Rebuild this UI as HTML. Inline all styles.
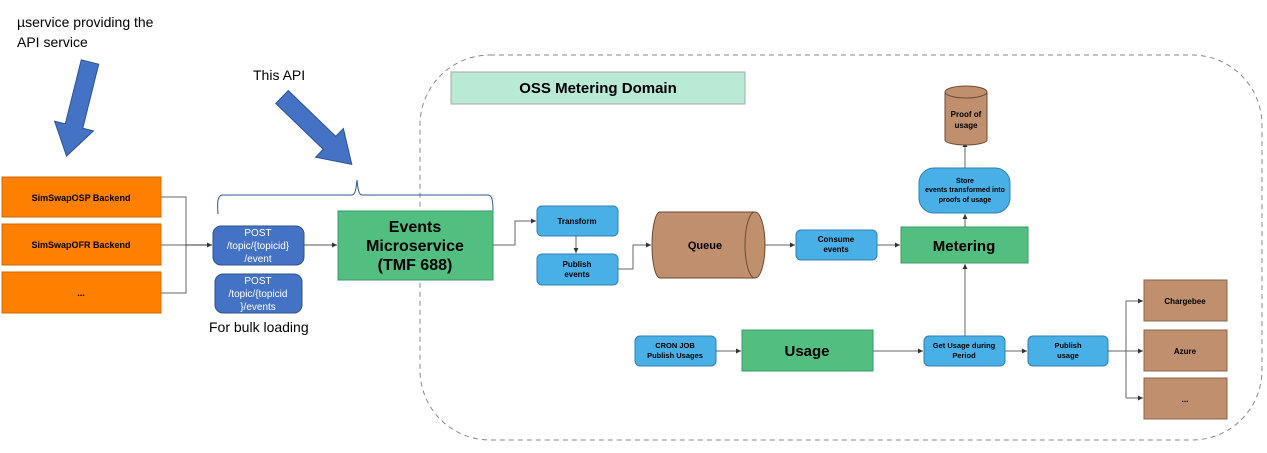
<!DOCTYPE html>
<html><head><meta charset="utf-8"><style>
html,body{margin:0;padding:0;background:#fff;}
svg{display:block;font-family:"Liberation Sans",Arial,sans-serif;}
.b{font-weight:bold;}
</style></head><body>
<svg width="1267" height="453" viewBox="0 0 1267 453" xmlns="http://www.w3.org/2000/svg">
<defs>
<marker id="a" markerWidth="6" markerHeight="6" refX="5" refY="3" orient="auto" markerUnits="userSpaceOnUse"><path d="M0,0.5 L5,3 L0,5.5 z" fill="#333"/></marker>
</defs>
<rect x="420" y="55" width="842" height="385" rx="70" fill="none" stroke="#888" stroke-dasharray="5,4"/>
<text x="17" y="27" font-family="Liberation Sans" font-size="14">µservice providing the</text>
<text x="17" y="47" font-size="14">API service</text>
<text x="253" y="80" font-size="14">This API</text>
<g transform="translate(90,62) rotate(104)"><polygon points="0,-9 66,-9 66,-20 97,0 66,20 66,9 0,9" fill="#4472C4" stroke="#2F528F"/></g>
<g transform="translate(282,97) rotate(44)"><polygon points="0,-9 66,-9 66,-20 97,0 66,20 66,9 0,9" fill="#4472C4" stroke="#2F528F"/></g>
<rect x="2" y="177" width="159" height="40" fill="#FF7F00" stroke="#d06800"/>
<rect x="2" y="224" width="159" height="41" fill="#FF7F00" stroke="#d06800"/>
<rect x="2" y="272" width="159" height="41" fill="#FF7F00" stroke="#d06800"/>
<text x="81" y="201" font-size="9" class="b" text-anchor="middle">SimSwapOSP Backend</text>
<text x="81" y="248" font-size="9" class="b" text-anchor="middle">SimSwapOFR Backend</text>
<text x="81" y="296" font-size="9" class="b" text-anchor="middle">...</text>
<path d="M161,197 H186 V293 H161 M161,245 H212" fill="none" stroke="#666" stroke-width="1"/>
<path d="M186,245 H212" stroke="#333" marker-end="url(#a)"/>
<path d="M218,214 C217,200 218,196 222,195 H352 C355,195 356,190 357,180 C358,190 359,195 362,195 H488 C492,195 493,200 493,212" fill="none" stroke="#2F5597"/>
<rect x="213" y="226" width="91" height="39" rx="8" fill="#4472C4" stroke="#2F528F"/>
<text fill="#fff" font-size="10" text-anchor="middle"><tspan x="258" y="236">POST</tspan><tspan x="258" y="249">/topic/{topicid}</tspan><tspan x="258" y="262">/event</tspan></text>
<rect x="215" y="274" width="87" height="39" rx="8" fill="#4472C4" stroke="#2F528F"/>
<text fill="#fff" font-size="10" text-anchor="middle"><tspan x="258" y="284">POST</tspan><tspan x="258" y="297">/topic/{topicid</tspan><tspan x="258" y="310">}/events</tspan></text>
<text x="209" y="332" font-size="14">For bulk loading</text>
<path d="M304,245 H337" stroke="#555" marker-end="url(#a)"/>
<rect x="338" y="211" width="155" height="69" fill="#52BE80" stroke="#3a9a66"/>
<text font-size="16" class="b" text-anchor="middle"><tspan x="415" y="232">Events</tspan><tspan x="415" y="251">Microservice</tspan><tspan x="415" y="270">(TMF 688)</tspan></text>
<rect x="451" y="72" width="294" height="32" fill="#B8EAD6" stroke="#aaa"/>
<text x="598" y="93" font-size="15" class="b" text-anchor="middle">OSS Metering Domain</text>
<path d="M493,245 H515 V221 H536" fill="none" stroke="#666" marker-end="url(#a)"/>
<rect x="537" y="206" width="81" height="30" rx="5" fill="#48B0E6" stroke="#2f7fb0"/>
<text x="577" y="224" font-size="8" class="b" text-anchor="middle">Transform</text>
<path d="M576,236 V253" stroke="#666" marker-end="url(#a)"/>
<rect x="537" y="254" width="81" height="31" rx="5" fill="#48B0E6" stroke="#2f7fb0"/>
<text font-size="8" class="b" text-anchor="middle"><tspan x="577" y="267">Publish</tspan><tspan x="577" y="277">events</tspan></text>
<path d="M618,269 H633 V245 H651" fill="none" stroke="#666" marker-end="url(#a)"/>
<path d="M660,212 H755 V278 H660 A8,33 0 0 1 660,212 z" fill="#C0906E" stroke="#6d4a33"/>
<ellipse cx="755" cy="245" rx="10" ry="33" fill="#C0906E" stroke="#6d4a33"/>
<text x="705" y="249" font-size="11" class="b" text-anchor="middle">Queue</text>
<path d="M765,245 H795" stroke="#666" marker-end="url(#a)"/>
<rect x="796" y="230" width="81" height="30" rx="5" fill="#48B0E6" stroke="#2f7fb0"/>
<text font-size="8" class="b" text-anchor="middle"><tspan x="836" y="242">Consume</tspan><tspan x="836" y="252">events</tspan></text>
<path d="M877,245 H900" stroke="#666" marker-end="url(#a)"/>
<rect x="901" y="227" width="127" height="36" fill="#52BE80" stroke="#3a9a66"/>
<text x="964" y="251" font-size="15" class="b" text-anchor="middle">Metering</text>
<path d="M965,227 V214" stroke="#666" marker-end="url(#a)"/>
<rect x="919" y="168" width="91" height="45" rx="15" fill="#48B0E6" stroke="#2f7fb0"/>
<text font-size="7" class="b" text-anchor="middle"><tspan x="965" y="183">Store</tspan><tspan x="965" y="192">events transformed into</tspan><tspan x="965" y="202">proofs of usage</tspan></text>
<path d="M965,168 V142" stroke="#666" marker-end="url(#a)"/>
<path d="M945,92 V140 A21,5 0 0 0 987,140 V92" fill="#C0906E" stroke="#6d4a33"/>
<ellipse cx="966" cy="92" rx="21" ry="6" fill="#C0906E" stroke="#6d4a33"/>
<text font-size="8" class="b" text-anchor="middle"><tspan x="966" y="117">Proof of</tspan><tspan x="966" y="128">usage</tspan></text>
<rect x="635" y="336" width="81" height="30" rx="5" fill="#48B0E6" stroke="#2f7fb0"/>
<text font-size="7.5" class="b" text-anchor="middle"><tspan x="675" y="348">CRON JOB</tspan><tspan x="675" y="358">Publish Usages</tspan></text>
<path d="M716,351 H741" stroke="#666" marker-end="url(#a)"/>
<rect x="742" y="330" width="131" height="41" fill="#52BE80" stroke="#3a9a66"/>
<text x="807" y="356" font-size="15" class="b" text-anchor="middle">Usage</text>
<path d="M873,351 H923" stroke="#666" marker-end="url(#a)"/>
<rect x="924" y="336" width="81" height="30" rx="5" fill="#48B0E6" stroke="#2f7fb0"/>
<text font-size="7.5" class="b" text-anchor="middle"><tspan x="964" y="348">Get Usage during</tspan><tspan x="964" y="358">Period</tspan></text>
<path d="M965,336 V264" stroke="#666" marker-end="url(#a)"/>
<path d="M1005,351 H1027" stroke="#666" marker-end="url(#a)"/>
<rect x="1028" y="336" width="80" height="30" rx="5" fill="#48B0E6" stroke="#2f7fb0"/>
<text font-size="7.5" class="b" text-anchor="middle"><tspan x="1068" y="348">Publish</tspan><tspan x="1068" y="358">usage</tspan></text>
<path d="M1108,351 H1126 M1126,301 V398" stroke="#666" fill="none"/>
<path d="M1126,301 H1143" stroke="#666" marker-end="url(#a)"/>
<path d="M1126,351 H1143" stroke="#666" marker-end="url(#a)"/>
<path d="M1126,398 H1143" stroke="#666" marker-end="url(#a)"/>
<rect x="1144" y="280" width="83" height="41" fill="#C0906E" stroke="#8a6448"/>
<rect x="1144" y="330" width="83" height="41" fill="#C0906E" stroke="#8a6448"/>
<rect x="1144" y="378" width="83" height="41" fill="#C0906E" stroke="#8a6448"/>
<text x="1185" y="304" font-size="8" class="b" text-anchor="middle">Chargebee</text>
<text x="1185" y="354" font-size="8" class="b" text-anchor="middle">Azure</text>
<text x="1185" y="402" font-size="8" class="b" text-anchor="middle">...</text>
</svg>
</body></html>
